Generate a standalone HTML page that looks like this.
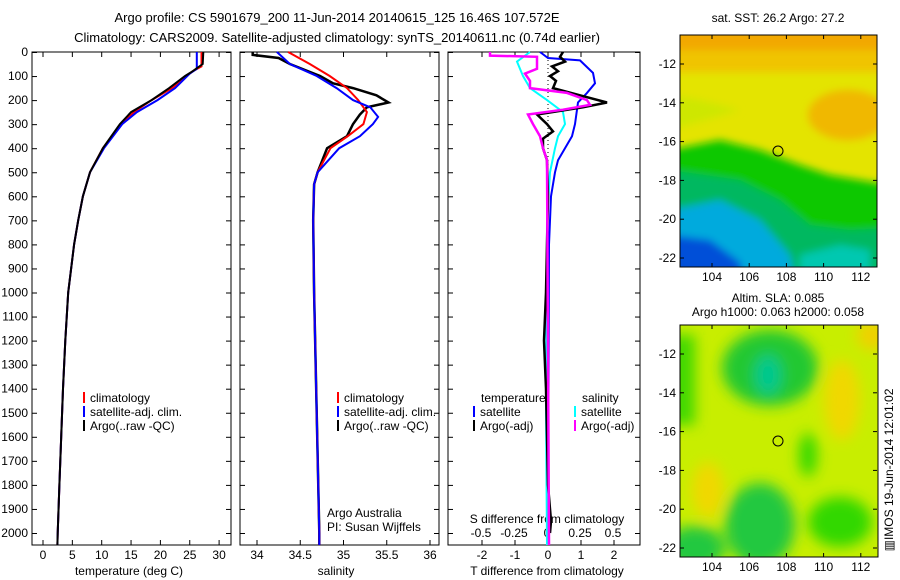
<!DOCTYPE html>
<html><head><meta charset="utf-8"><style>
html,body{margin:0;padding:0;background:#fff;}
svg{display:block;font-family:"Liberation Sans",sans-serif;}
text{font-size:12px;fill:#000;}
</style></head><body>
<svg id="s" width="900" height="580" viewBox="0 0 900 580" xmlns="http://www.w3.org/2000/svg">
<defs>
<filter id="b1" x="-10%" y="-10%" width="120%" height="120%"><feGaussianBlur stdDeviation="4"/></filter>
<filter id="b2" x="-10%" y="-10%" width="120%" height="120%"><feGaussianBlur stdDeviation="7"/></filter>
<clipPath id="c1"><rect x="680" y="35" width="197" height="232"/></clipPath>
<clipPath id="c2"><rect x="680" y="325" width="198" height="232"/></clipPath>
</defs>
<text x="337" y="22" text-anchor="middle" style="font-size:13px">Argo profile: CS 5901679_200 11-Jun-2014 20140615_125 16.46S 107.572E</text>
<text x="337" y="42" text-anchor="middle" style="font-size:13px">Climatology: CARS2009. Satellite-adjusted climatology: synTS_20140611.nc (0.74d earlier)</text>

<!-- map1 -->
<g clip-path="url(#c1)">
<rect x="680" y="35" width="197" height="232" fill="#e4e400"/>
<g filter="url(#b1)">
<rect x="670" y="25" width="220" height="28" fill="#f2a800"/>
<rect x="670" y="50" width="220" height="22" fill="#f0c400"/>
<ellipse cx="848" cy="115" rx="40" ry="25" fill="#f0b800"/>
<polygon points="670,95 700,100 740,110 670,130" fill="#c8e800" opacity="0.8"/>
<polygon points="670,150 720,140 760,150 800,165 830,175 890,185 890,280 670,280" fill="#10c800"/>
<polygon points="670,170 740,180 780,200 810,225 850,230 890,228 890,280 670,280" fill="#00b860"/>
<polygon points="670,210 720,200 760,220 790,255 795,280 670,280" fill="#00aadd"/>
<polygon points="670,235 710,240 740,262 745,280 670,280" fill="#0050d8"/>
<polygon points="800,255 840,245 870,250 870,280 800,280" fill="#00c8b0"/>
</g>
<circle cx="778" cy="151" r="5" fill="none" stroke="#000" stroke-width="1"/>
</g>
<rect x="680" y="35" width="197" height="232" fill="none" stroke="#000"/>

<!-- map2 -->
<g clip-path="url(#c2)">
<rect x="680" y="325" width="198" height="232" fill="#c8ee00"/>
<g filter="url(#b2)">
<ellipse cx="770" cy="368" rx="48" ry="38" fill="#20c830"/>
<ellipse cx="768" cy="375" rx="13" ry="20" fill="#00c890"/>
<rect x="670" y="335" width="25" height="90" fill="#40d800"/>
<ellipse cx="760" cy="525" rx="35" ry="42" fill="#20c840"/>
<ellipse cx="695" cy="548" rx="30" ry="22" fill="#20c840"/>
<ellipse cx="840" cy="522" rx="32" ry="25" fill="#30d800"/>
<ellipse cx="808" cy="455" rx="9" ry="22" fill="#30d800"/>
<ellipse cx="842" cy="400" rx="18" ry="40" fill="#f0d800"/>
<ellipse cx="708" cy="490" rx="16" ry="28" fill="#f0d800"/>
<ellipse cx="872" cy="335" rx="15" ry="15" fill="#f0d000"/>
</g>
<circle cx="778" cy="441" r="5" fill="none" stroke="#000"/>
</g>
<rect x="680" y="325" width="198" height="232" fill="none" stroke="#000"/>
<text x="778" y="22" text-anchor="middle">sat. SST: 26.2 Argo: 27.2</text>
<text x="778" y="302" text-anchor="middle">Altim. SLA: 0.085</text>
<text x="778" y="316" text-anchor="middle">Argo h1000: 0.063 h2000: 0.058</text>
<text transform="translate(893,470) rotate(-90)" text-anchor="middle">▥IMOS 19-Jun-2014 12:01:02</text>
<g id="g"></g>
</svg>
<script>
var g=document.getElementById('g'),o='';
function Y(d){return 52+d*0.2405;}
function L(x1,y1,x2,y2,c){o+='<line x1="'+x1+'" y1="'+y1+'" x2="'+x2+'" y2="'+y2+'" stroke="'+(c||'#000')+'"/>';}
function T(x,y,t,a){o+='<text x="'+x+'" y="'+y+'" text-anchor="'+(a||'middle')+'">'+t+'</text>';}
function P(pts,fx,c,w){var s=pts.map(function(p){return fx(p[1]).toFixed(1)+','+Y(p[0]).toFixed(1);}).join(' ');o+='<polyline points="'+s+'" fill="none" stroke="'+c+'" stroke-width="'+(w||2)+'"/>';}
var panels=[[32,231],[240,439],[448,640]];
panels.forEach(function(p,i){
 o+='<rect x="'+p[0]+'" y="52" width="'+(p[1]-p[0])+'" height="493" fill="none" stroke="#000"/>';
 for(var d=0;d<=2000;d+=100){var y=Y(d)+0.5;L(p[0],y,p[0]+5,y);L(p[1]-5,y,p[1],y);if(i==0)T(28,Y(d)+4,d,'end');}
});
for(var t=0;t<=30;t+=5){var x=43+t*5.87;L(x,52,x,57);L(x,540,x,545);T(x,559,t);}
T(129,575,'temperature (deg C)');
for(var s=34;s<=36;s+=0.5){var x=257+(s-34)*86.5;L(x,52,x,57);L(x,540,x,545);T(x,559,s);}
T(336,575,'salinity');
for(var t=-2;t<=2;t++){var x=548+t*33;L(x,52,x,57);L(x,540,x,545);T(x,559,t);}
T(547,575,'T difference from climatology');
[-0.5,-0.25,0,0.25,0.5].forEach(function(s){T(547+s*132,537,s);});
T(547,523,'S difference from climatology');
o+='<line x1="548" y1="52" x2="548" y2="545" stroke="#000" stroke-dasharray="1,3"/>';
function ft(t){return 43+t*5.87;}
var deep=[[500,8.0],[600,6.8],[700,6.0],[800,5.3],[1000,4.3],[1200,3.8],[1400,3.4],[1600,3.1],[1800,2.8],[2000,2.5],[2050,2.45]];
P([[0,27],[60,27],[80,25.5],[100,24.5],[150,22],[200,18.5],[250,15.5],[300,13.3],[400,10.2]].concat(deep),ft,'#f00');
P([[0,26.2],[70,26.2],[90,25],[150,22.5],[200,19.5],[250,16],[300,13.5],[400,10.4]].concat(deep),ft,'#00f');
P([[0,27.3],[50,27.2],[80,25.5],[100,24.2],[150,21.5],[200,18.5],[250,15],[300,13.1],[400,10.2]].concat(deep),ft,'#000');
function fs(s){return 257+(s-34)*86.5;}
var sd=[[500,34.7],[550,34.66],[700,34.65],[1000,34.66],[1500,34.69],[2000,34.72],[2050,34.72]];
P([[0,33.95],[12,33.95],[25,34.25],[50,34.38],[100,34.73],[130,34.88],[150,35.11],[180,35.38],[210,35.52],[230,35.27],[260,35.19],[300,35.11],[350,35.04],[400,34.81]].concat(sd),fs,'#000',2.5);
P([[0,34.36],[50,34.61],[100,34.84],[150,35.04],[200,35.17],[250,35.27],[300,35.23],[350,35.05],[400,34.85]].concat(sd),fs,'#f00');
P([[0,34.23],[50,34.38],[100,34.69],[150,34.92],[200,35.11],[230,35.31],[270,35.4],[300,35.34],[350,35.19],[400,34.95]].concat(sd),fs,'#00f');
function fd(x){return x;}
P([[0,540],[25,548],[35,580],[87,593],[130,595],[170,587],[210,578],[300,575],[350,572],[400,565],[450,558],[500,555],[600,551],[800,549],[2050,548]],fd,'#00f');
P([[0,530],[40,517],[100,523],[150,530],[200,547],[250,563],[300,565],[350,558],[400,555],[500,550],[700,547],[1500,546],[2050,547]],fd,'#0ff');
P([[0,563],[20,560],[40,565],[60,552],[80,558],[100,550],[120,556],[150,553],[180,580],[210,607],[230,583],[260,537],[300,547],[330,553],[360,543],[400,543],[450,547],[600,548],[1000,546],[1200,544],[1400,546],[1800,548],[1950,551],[2000,550]],fd,'#000',2.5);
P([[0,490],[15,490],[20,537],[70,537],[90,525],[120,530],[150,530],[170,567],[200,587],[220,590],[240,563],[260,528],[300,533],[350,540],[400,543],[450,547],[2050,549]],fd,'#f0f',2.5);
function leg(x,y,c,t){o+='<rect x="'+x+'" y="'+(y-10)+'" width="2" height="11" fill="'+c+'"/>';T(x+7,y,t,'start');}
leg(83,402,'#f00','climatology');leg(83,416,'#00f','satellite-adj. clim.');leg(83,430,'#000','Argo(..raw -QC)');
leg(337,402,'#f00','climatology');leg(337,416,'#00f','satellite-adj. clim.');leg(337,430,'#000','Argo(..raw -QC)');
T(481,402,'temperature','start');leg(473,416,'#00f','satellite');leg(473,430,'#000','Argo(-adj)');
T(582,402,'salinity','start');leg(574,416,'#0ff','satellite');leg(574,430,'#f0f','Argo(-adj)');
T(327,517,'Argo Australia','start');T(327,531,'PI: Susan Wijffels','start');
[[35,267,281],[325,557,571]].forEach(function(m){
 for(var lon=104;lon<=112;lon+=2){var x=712+(lon-104)*18.6;L(x,m[0],x,m[0]+4);L(x,m[1]-4,x,m[1]);T(x,m[2],lon);}
 var base=m[0]===35?64:354;
 for(var la=-12;la>=-22;la-=2){var y=base+(-12-la)*19.4;L(680,y,684,y);L(873,y,877,y);T(676,y+4,la,'end');}
});
g.innerHTML=o;
</script>
</body></html>
